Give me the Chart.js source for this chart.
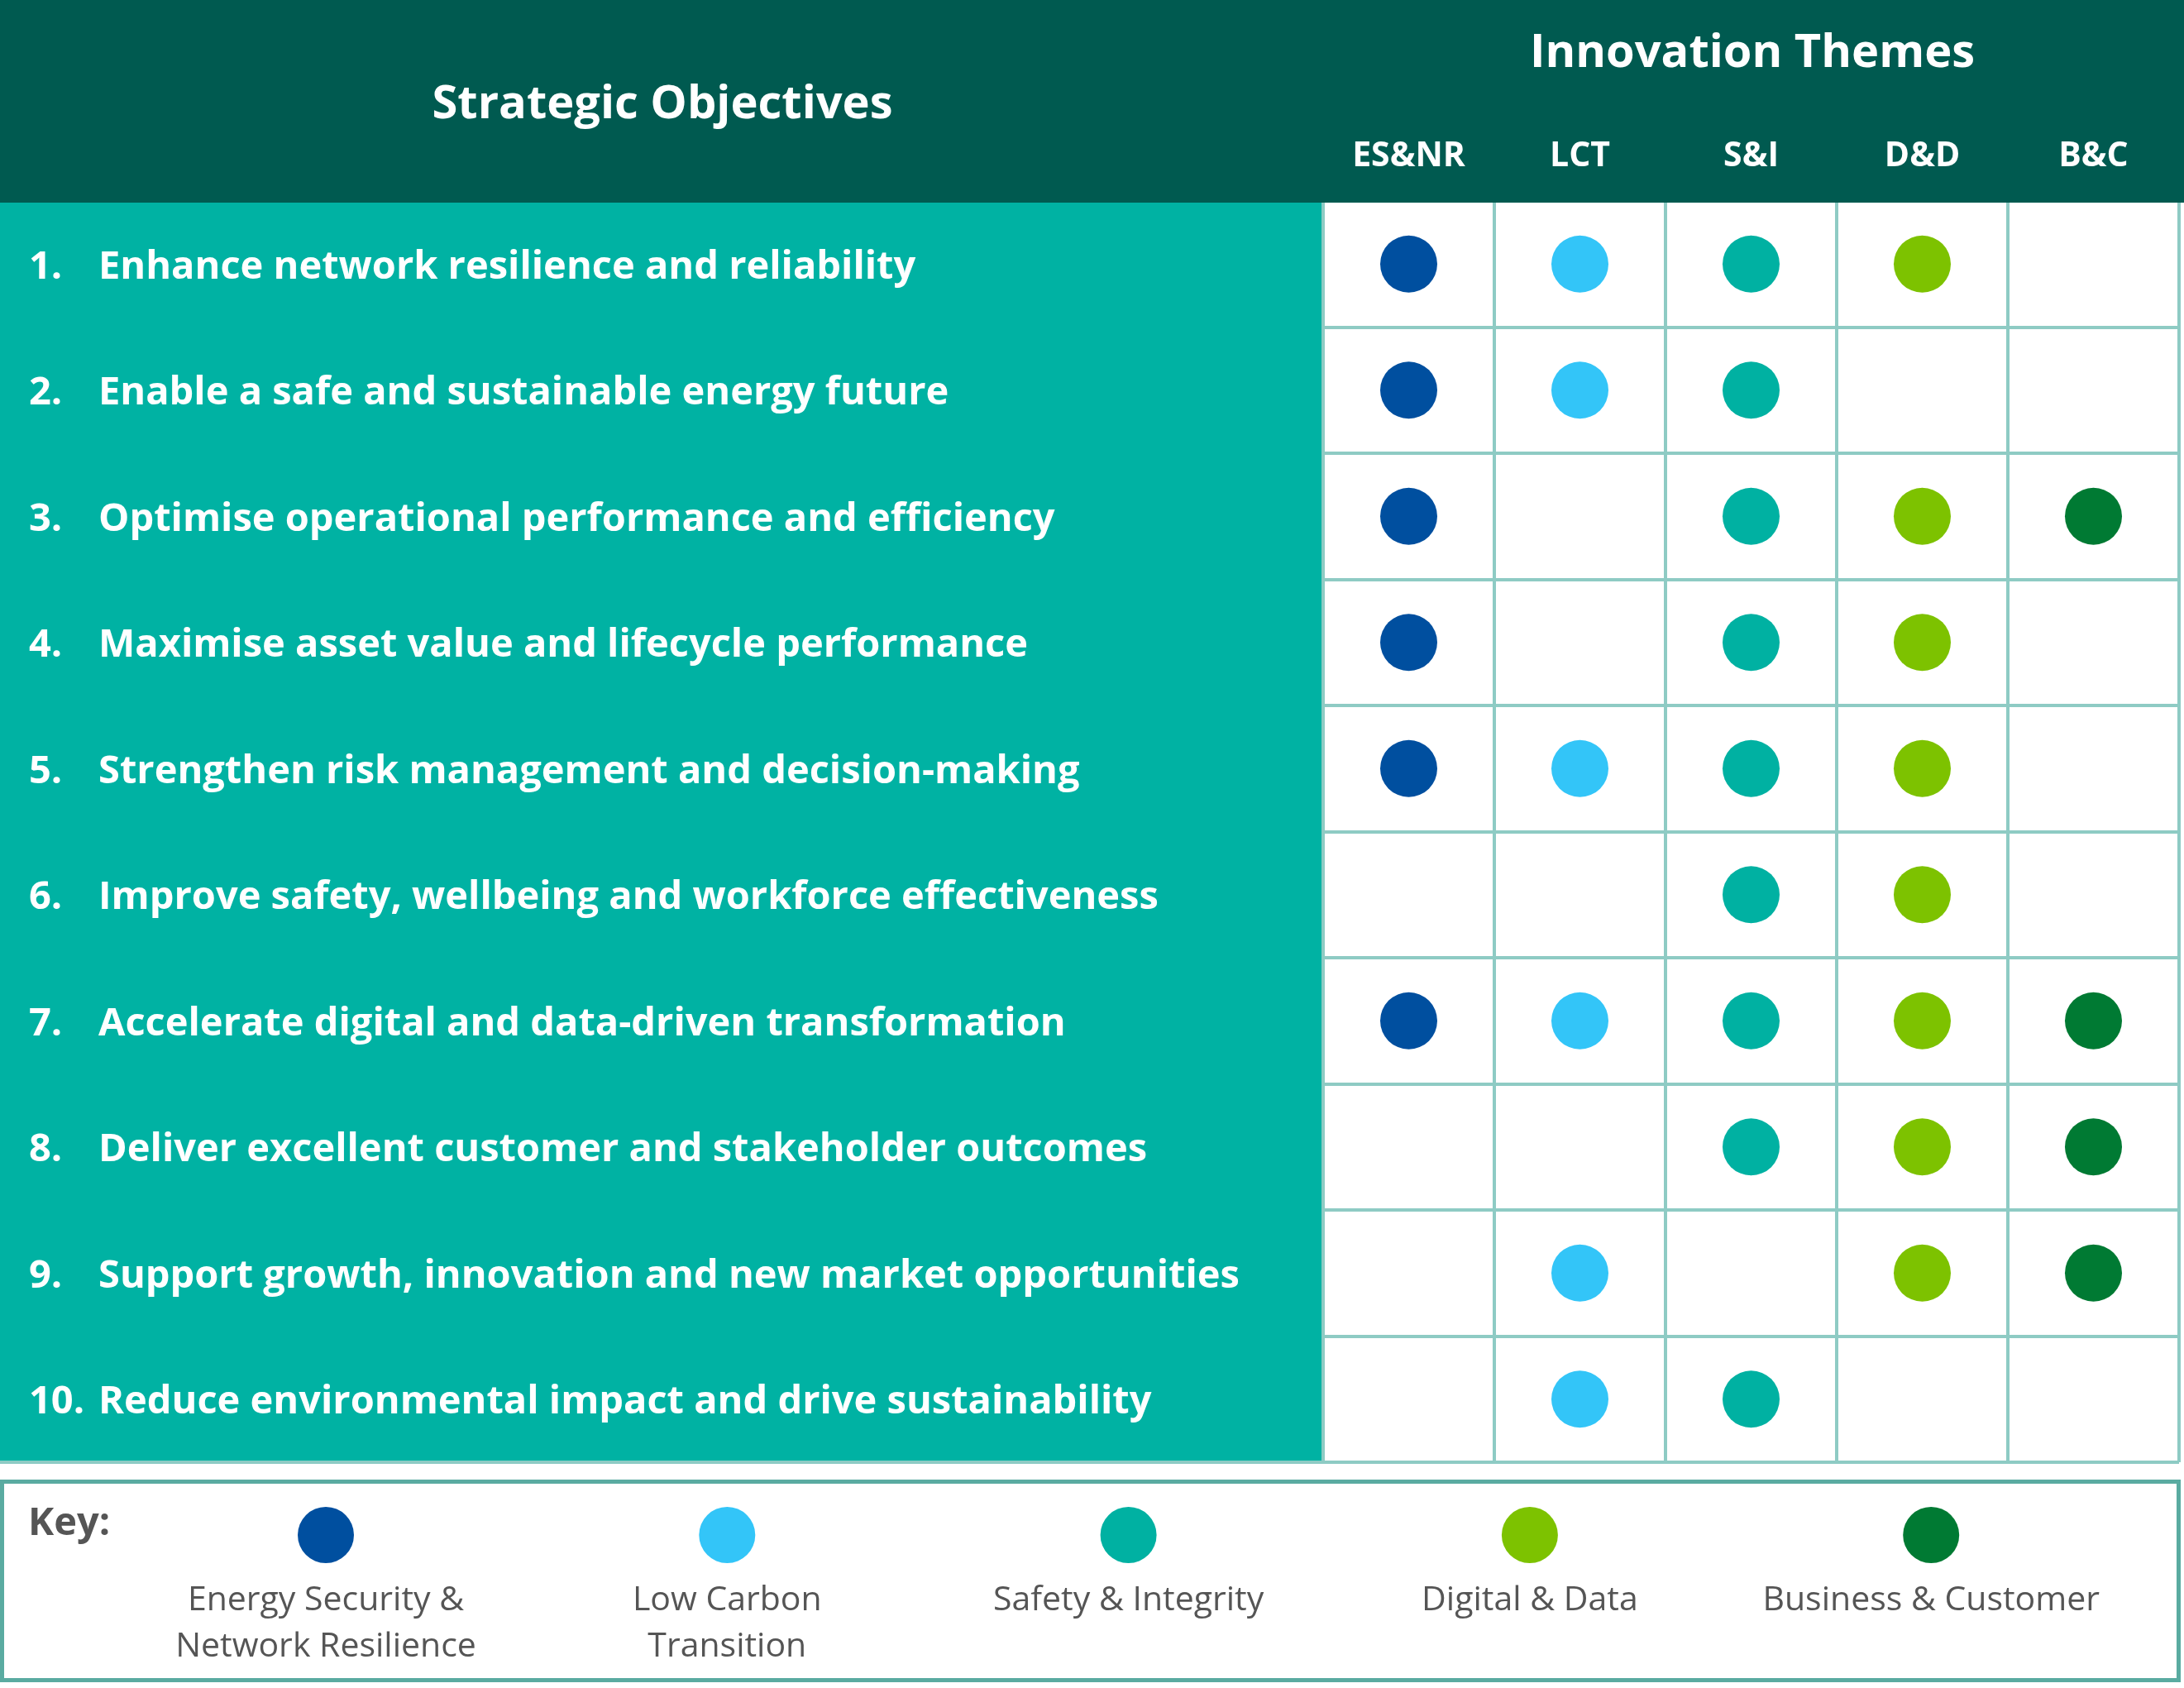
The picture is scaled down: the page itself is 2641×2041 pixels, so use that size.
<!DOCTYPE html>
<html>
<head>
<meta charset="utf-8">
<title>Strategic Objectives vs Innovation Themes</title>
<script src="https://cdn.jsdelivr.net/npm/chart.js@4.4.1/dist/chart.umd.min.js"></script>
<style>
  html, body { margin: 0; padding: 0; background: #ffffff; overflow: hidden; }
  #wrap { width: 2641px; height: 2041px; }
  canvas { display: block; }
</style>
</head>
<body>
<div id="wrap"><canvas id="matrix" width="2641" height="2041"></canvas></div>
<script>
// Innovation themes (columns)
const themes = ['ES&NR', 'LCT', 'S&I', 'D&D', 'B&C'];
const themeNames = [
  ['Energy Security &', 'Network Resilience'],
  ['Low Carbon', 'Transition'],
  ['Safety & Integrity'],
  ['Digital & Data'],
  ['Business & Customer']
];
const themeColors = ['#004f9f', '#33c5f8', '#00b1a2', '#7dc200', '#007a33'];

// Strategic objectives (rows)
const objectives = [
  'Enhance network resilience and reliability',
  'Enable a safe and sustainable energy future',
  'Optimise operational performance and efficiency',
  'Maximise asset value and lifecycle performance',
  'Strengthen risk management and decision-making',
  'Improve safety, wellbeing and workforce effectiveness',
  'Accelerate digital and data-driven transformation',
  'Deliver excellent customer and stakeholder outcomes',
  'Support growth, innovation and new market opportunities',
  'Reduce environmental impact and drive sustainability'
];

// Which objectives (by number) each theme supports
const esnrRows = [1, 2, 3, 4, 5, 7];
const lctRows = [1, 2, 5, 7, 9, 10];
const siRows = [1, 2, 3, 4, 5, 6, 7, 8, 10];
const ddRows = [1, 3, 4, 5, 6, 7, 8, 9];
const bcRows = [3, 7, 8, 9];
const themeRows = [esnrRows, lctRows, siRows, ddRows, bcRows];

const headerColor = '#005a50';
const panelColor = '#00b2a3';
const gridColor = '#8ecbc4';
const keyBorder = '#5aaba1';
const keyText = '#555555';
const font = '"Open Sans", "Noto Sans", sans-serif';

const datasets = themes.map((t, i) => ({
  label: t,
  data: themeRows[i].map(n => ({ x: t, y: objectives[n - 1] })),
  backgroundColor: themeColors[i],
  borderWidth: 0,
  pointRadius: 34.5,
  pointHoverRadius: 34.5
}));

const framePlugin = {
  id: 'frame',
  beforeDraw(chart) {
    const ctx = chart.ctx;
    const a = chart.chartArea;
    ctx.save();
    ctx.fillStyle = '#ffffff';
    ctx.fillRect(0, 0, chart.width, chart.height);
    // teal panel behind the objective labels
    ctx.fillStyle = panelColor;
    ctx.fillRect(0, a.top, a.left, a.bottom - a.top);
    ctx.restore();
  },
  afterDraw(chart) {
    const ctx = chart.ctx;
    const a = chart.chartArea;
    const xs = chart.scales.x;
    const ys = chart.scales.y;
    ctx.save();

    // header band
    ctx.fillStyle = headerColor;
    ctx.fillRect(0, 0, chart.width, a.top + 2);

    // bottom rule under the teal panel
    ctx.strokeStyle = gridColor;
    ctx.lineWidth = 4;
    ctx.beginPath();
    ctx.moveTo(0, a.bottom);
    ctx.lineTo(a.left, a.bottom);
    ctx.stroke();

    ctx.fillStyle = '#ffffff';
    ctx.textBaseline = 'middle';
    ctx.textAlign = 'center';
    ctx.font = 'bold 56px ' + font;
    ctx.fillText('Strategic Objectives', 801, 127);
    ctx.fillText('Innovation Themes', 2119, 65);

    ctx.font = 'bold 41px ' + font;
    themes.forEach((t, i) => {
      ctx.fillText(t, xs.getPixelForValue(i), 189);
    });

    // objective labels
    ctx.textAlign = 'left';
    ctx.font = 'bold 47px ' + font;
    objectives.forEach((o, i) => {
      const y = ys.getPixelForValue(i) + 4;
      ctx.fillText((i + 1) + '.', 35, y);
      ctx.fillText(o, 119, y);
    });

    // key
    ctx.strokeStyle = keyBorder;
    ctx.lineWidth = 5;
    ctx.strokeRect(2.5, 1791.5, 2632, 240);
    ctx.fillStyle = keyText;
    ctx.font = 'bold 47px ' + font;
    ctx.fillText('Key:', 34, 1843);
    ctx.textAlign = 'center';
    ctx.font = '41px ' + font;
    themes.forEach((t, i) => {
      const cx = 394 + i * 485.3;
      ctx.fillStyle = themeColors[i];
      ctx.beginPath();
      ctx.arc(cx, 1856, 34, 0, Math.PI * 2);
      ctx.fill();
      ctx.fillStyle = keyText;
      themeNames[i].forEach((line, j) => {
        ctx.fillText(line, cx, 1935 + j * 56);
      });
    });
    ctx.restore();
  }
};

new Chart(document.getElementById('matrix'), {
  type: 'scatter',
  data: { datasets },
  options: {
    responsive: false,
    devicePixelRatio: 1,
    animation: false,
    events: [],
    layout: { autoPadding: false, padding: { left: 1600, top: 243, right: 6, bottom: 273 } },
    plugins: { legend: { display: false }, tooltip: { enabled: false } },
    scales: {
      x: {
        type: 'category',
        labels: themes,
        offset: true,
        position: 'top',
        grid: { offset: true, color: gridColor, lineWidth: 4, drawTicks: false },
        border: { display: true, color: gridColor, width: 4 },
        ticks: { display: false },
        afterFit: s => { s.height = 0; }
      },
      y: {
        type: 'category',
        labels: objectives,
        offset: true,
        grid: { offset: true, color: gridColor, lineWidth: 4, drawTicks: false },
        border: { display: true, color: gridColor, width: 4 },
        ticks: { display: false },
        afterFit: s => { s.width = 0; }
      }
    }
  },
  plugins: [framePlugin]
});
</script>
</body>
</html>
